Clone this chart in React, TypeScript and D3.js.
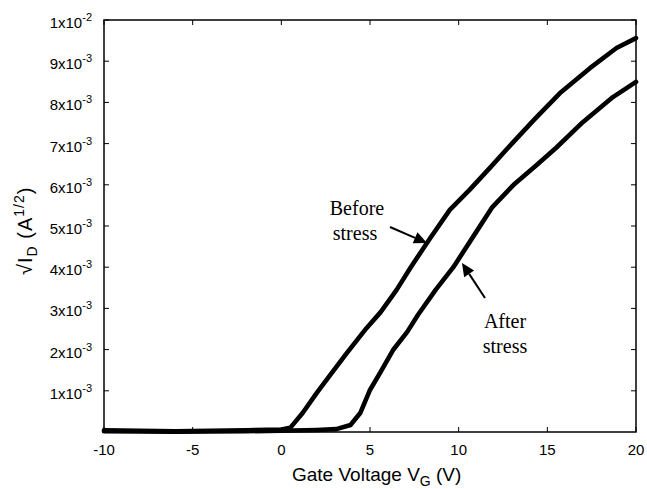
import React from "react";
import * as d3 from "d3";

const beforeV = [-10, -8, -6, -4, -2, 0, 0.5, 1.2, 2.0, 2.75, 3.7, 4.8, 5.6, 6.5, 7.3, 8.4, 9.5, 10.6, 11.8, 13.0, 14.3, 15.7, 17.4, 18.9, 20];
const beforeI = [0.04, 0.03, 0.02, 0.03, 0.04, 0.06, 0.1, 0.46, 0.95, 1.38, 1.92, 2.52, 2.91, 3.45, 4.0, 4.71, 5.39, 5.87, 6.43, 7.0, 7.6, 8.22, 8.83, 9.32, 9.56];
const afterV = [-10, -6, -2, 0, 2, 3.1, 3.9, 4.45, 5.0, 5.6, 6.3, 7.1, 7.7, 8.7, 9.7, 10.8, 11.9, 13.1, 14.4, 15.5, 17.0, 18.7, 20];
const afterI = [0.02, 0.01, 0.02, 0.03, 0.05, 0.07, 0.17, 0.46, 1.02, 1.46, 1.99, 2.43, 2.84, 3.45, 4.0, 4.73, 5.46, 6.0, 6.48, 6.9, 7.52, 8.13, 8.5];
const xTicks = [-10, -5, 0, 5, 10, 15, 20];
const yTickMantissa = [1, 2, 3, 4, 5, 6, 7, 8, 9, 1];
const yTickExp = ["-3", "-3", "-3", "-3", "-3", "-3", "-3", "-3", "-3", "-2"];
const yTickValues = [1e-3, 2e-3, 3e-3, 4e-3, 5e-3, 6e-3, 7e-3, 8e-3, 9e-3, 1e-2];

const W = 647, H = 489;
const L = 104, R = 636, T = 20, B = 432;

function Arrow({ x1, y1, x2, y2 }: { x1: number; y1: number; x2: number; y2: number }) {
  const ang = Math.atan2(y2 - y1, x2 - x1);
  const len = 13, half = 6;
  const bx = x2 - len * Math.cos(ang), by = y2 - len * Math.sin(ang);
  const px = -Math.sin(ang) * half, py = Math.cos(ang) * half;
  return (
    <g>
      <line x1={x1} y1={y1} x2={bx} y2={by} stroke="#000" strokeWidth={2} />
      <polygon points={`${x2},${y2} ${bx + px},${by + py} ${bx - px},${by - py}`} fill="#000" />
    </g>
  );
}

export default function App() {
  const x = d3.scaleLinear().domain([-10, 20]).range([L, R]);
  const y = d3.scaleLinear().domain([0, 0.01]).range([B, T]);
  const line = d3.line<[number, number]>().x(d => x(d[0])).y(d => y(d[1] * 1e-3));
  const before = beforeV.map((v, i) => [v, beforeI[i]] as [number, number]);
  const after = afterV.map((v, i) => [v, afterI[i]] as [number, number]);
  const font = "Arial, 'Liberation Sans', Helvetica, sans-serif";
  const serif = "'Times New Roman', 'Liberation Serif', serif";
  return (
    <svg width={W} height={H} style={{ position: "absolute", left: 0, top: 0, background: "#fff" }}>
      <rect x={0} y={0} width={W} height={H} fill="#fff" />
      <path d={line(after) || ""} fill="none" stroke="#000" strokeWidth={4.6} strokeLinejoin="round" strokeLinecap="round" />
      <path d={line(before) || ""} fill="none" stroke="#000" strokeWidth={4.6} strokeLinejoin="round" strokeLinecap="round" />
      <rect x={L} y={T} width={R - L} height={B - T} fill="none" stroke="#000" strokeWidth={1.5} />
      {xTicks.map(t => (
        <g key={"x" + t}>
          <line x1={x(t)} x2={x(t)} y1={B} y2={B - 5} stroke="#000" />
          <line x1={x(t)} x2={x(t)} y1={T} y2={T + 5} stroke="#000" />
          <text x={x(t)} y={455} textAnchor="middle" fontFamily={font} fontSize={15} fill="#000">{t}</text>
        </g>
      ))}
      {yTickValues.map((v, i) => (
        <g key={"y" + i}>
          <line x1={L} x2={L + 5} y1={y(v)} y2={y(v)} stroke="#000" />
          <line x1={R} x2={R - 5} y1={y(v)} y2={y(v)} stroke="#000" />
          <text x={92} y={y(v) + 8} textAnchor="end" fontFamily={font} fontSize={15} fill="#000">
            {yTickMantissa[i]}x10<tspan fontSize={11} dy={-7}>{yTickExp[i]}</tspan>
          </text>
        </g>
      ))}
      <text x={292} y={481} fontFamily={font} fontSize={19} fill="#000">
        Gate Voltage V<tspan fontSize={14} dy={5}>G</tspan><tspan dy={-5}> (V)</tspan>
      </text>
      <text transform="translate(32,275) rotate(-90)" fontFamily={font} fontSize={20} letterSpacing={1} fill="#000">
        √I<tspan fontSize={14} dy={5}>D</tspan><tspan dy={-5}> (A</tspan><tspan fontSize={14} dy={-8}>1/2</tspan><tspan dy={8}>)</tspan>
      </text>
      <text x={357} y={215} textAnchor="middle" fontFamily={serif} fontSize={20} fill="#000">Before</text>
      <text x={355} y={240} textAnchor="middle" fontFamily={serif} fontSize={20} fill="#000">stress</text>
      <Arrow x1={390} y1={227} x2={427} y2={243} />
      <text x={505} y={328} textAnchor="middle" fontFamily={serif} fontSize={20} fill="#000">After</text>
      <text x={505} y={353} textAnchor="middle" fontFamily={serif} fontSize={20} fill="#000">stress</text>
      <Arrow x1={485} y1={298} x2={462} y2={263} />
    </svg>
  );
}
